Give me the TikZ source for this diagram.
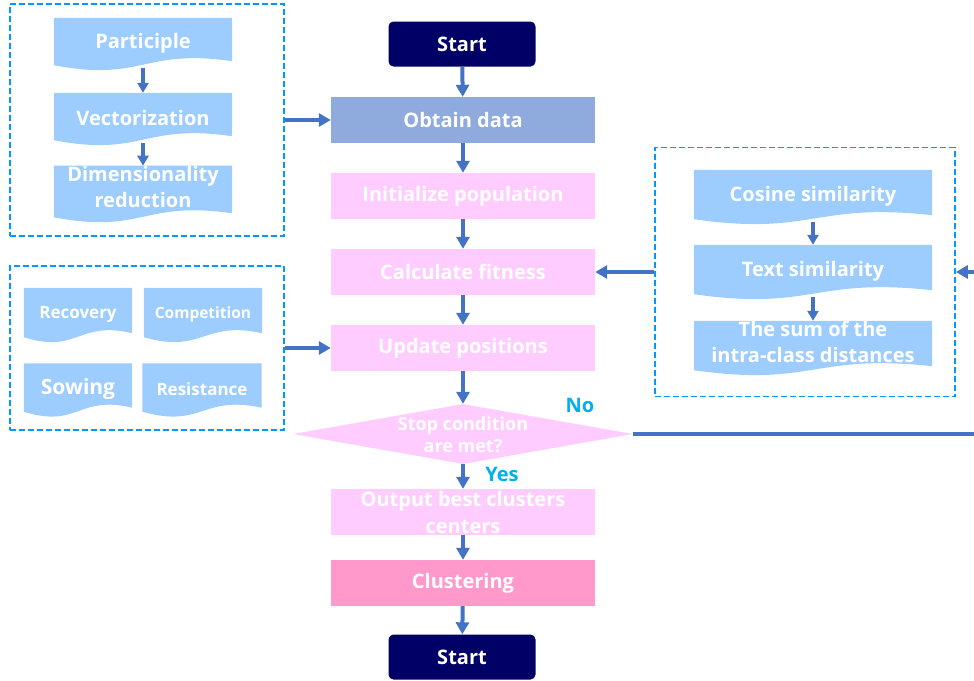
\documentclass[tikz,border=0pt]{standalone}
\usepackage{fontspec}
\setmainfont{Open Sans}
\usetikzlibrary{shapes.geometric,arrows.meta,calc,backgrounds}

\definecolor{navybox}{RGB}{0,0,102}
\definecolor{obtainblue}{RGB}{143,170,220}
\definecolor{pinkbox}{RGB}{255,204,255}
\definecolor{clusterpink}{RGB}{255,153,204}
\definecolor{docblue}{RGB}{157,204,255}
\definecolor{dashblue}{RGB}{0,153,255}
\definecolor{arrowblue}{RGB}{68,114,196}
\definecolor{labelblue}{RGB}{0,176,240}

\begin{document}
\begin{tikzpicture}[x=1pt,y=-1pt,
	termbox/.style={rounded corners=5pt,fill=navybox,text=white,minimum width=147pt,minimum height=45pt,font=\bfseries\fontsize{20}{22}\selectfont},
	procbox/.style={fill=pinkbox,text=white,minimum width=264pt,minimum height=46pt,inner sep=0pt,align=center,font=\bfseries\fontsize{20}{27}\selectfont},
	docbox/.style={inner sep=0pt,text=white,align=center,font=\bfseries\fontsize{20}{26}\selectfont},
	groupbox/.style={draw=dashblue,line width=1.8pt,dash pattern=on 6pt off 3pt,inner sep=0pt},
	flow/.style={draw=arrowblue,line width=4pt,-{Triangle[length=12pt,width=13pt]}},
	subflow/.style={draw=arrowblue,line width=3.5pt,-{Triangle[length=10pt,width=11pt]}},
	yesno/.style={text=labelblue,font=\bfseries\fontsize{20}{22}\selectfont}]
	\useasboundingbox (0,0) rectangle (974,680);

	% main flow
	\node[termbox] (start) at (462,44) {Start};
	\node[procbox,fill=obtainblue] (obtain) at (463,120) {Obtain data};
	\node[procbox] (init) at (463,196) {Initialize population};
	\node[procbox] (fit) at (463,272) {Calculate fitness};
	\node[procbox] (update) at (463,348) {Update positions};
	\node[diamond,fill=pinkbox,minimum width=340pt,minimum height=60pt,inner sep=0pt] (cond) at (463,434) {};
	\node[text=white,align=center,font=\bfseries\fontsize{18}{22}\selectfont] (condlbl) at (463,435) {Stop condition\\are met?};
	\node[procbox] (output) at (463,512) {Output best clusters\\centers};
	\node[procbox,fill=clusterpink] (cluster) at (463,583) {Clustering};
	\node[termbox] (stop) at (462,657) {Start};

	% preprocessing group
	\node[groupbox,minimum width=274pt,minimum height=232pt] (prep) at (147,120) {};
	\node[docbox,minimum width=178pt,minimum height=50pt] (part) at (143,43) {Participle};
	\node[docbox,minimum width=178pt,minimum height=50pt] (vect) at (143,118) {Vectorization};
	\node[docbox,minimum width=178pt,minimum height=51pt,text depth=13pt] (dimred) at (143,193) {Dimensionality\\reduction};

	% operator group
	\node[groupbox,minimum width=274pt,minimum height=164pt] (oper) at (147,348) {};
	\node[docbox,minimum width=108pt,minimum height=52pt,font=\bfseries\fontsize{17}{20}\selectfont] (recov) at (78,314) {Recovery};
	\node[docbox,minimum width=118pt,minimum height=52pt,font=\bfseries\fontsize{15.5}{20}\selectfont] (compet) at (203,314) {Competition};
	\node[docbox,minimum width=108pt,minimum height=51pt,font=\bfseries\fontsize{21}{24}\selectfont] (sow) at (78,389) {Sowing};
	\node[docbox,minimum width=119pt,minimum height=51pt,font=\bfseries\fontsize{17}{20}\selectfont] (resist) at (202,389) {Resistance};

	% fitness group
	\node[groupbox,minimum width=300pt,minimum height=249pt] (fitgrp) at (805,272) {};
	\node[docbox,minimum width=238pt,minimum height=52pt] (cosine) at (813,196) {Cosine similarity};
	\node[docbox,minimum width=238pt,minimum height=52pt] (textsim) at (813,271) {Text similarity};
	\node[docbox,minimum width=238pt,minimum height=52pt,text depth=10pt] (intra) at (813,347) {The sum of the\\intra-class distances};

	% wavy document shapes
	\begin{scope}[on background layer]
	\foreach \n in {part,vect,dimred,recov,compet,sow,resist,cosine,textsim,intra}
		\fill[docblue] (\n.north west) -- (\n.north east) -- ($(\n.south east)+(0,-7)$)
			.. controls ($(\n.south)+(0,-20)$) and ($(\n.south)+(0,14)$) .. ($(\n.south west)+(0,-3)$) -- cycle;
	\end{scope}

	% connectors
	\draw[flow] (start) -- (obtain);
	\draw[flow] (obtain) -- (init);
	\draw[flow] (init) -- (fit);
	\draw[flow] (fit) -- (update);
	\draw[flow] (update) -- (cond);
	\draw[flow] (cond) -- (output);
	\draw[flow] (output) -- (cluster);
	\draw[flow] (cluster) -- (stop);
	\draw[subflow] (part) -- (vect);
	\draw[subflow] (vect) -- (dimred);
	\draw[subflow] (cosine) -- (textsim);
	\draw[subflow] (textsim) -- (intra);
	\draw[flow] (prep.east) -- (obtain.west);
	\draw[flow] (oper.east) -- (update.west);
	\draw[flow] (fitgrp.west) -- (fit.east);
	\coordinate (loopin) at (974,272);
	\coordinate (loopout) at (974,434);
	\draw[flow] (loopin) -- (fitgrp.east);
	\draw[draw=arrowblue,line width=4pt] (cond.east) -- (loopout);
	\node[yesno] (nolbl) at (580,405) {No};
	\node[yesno] (yeslbl) at (502,474) {Yes};
\end{tikzpicture}
\end{document}
